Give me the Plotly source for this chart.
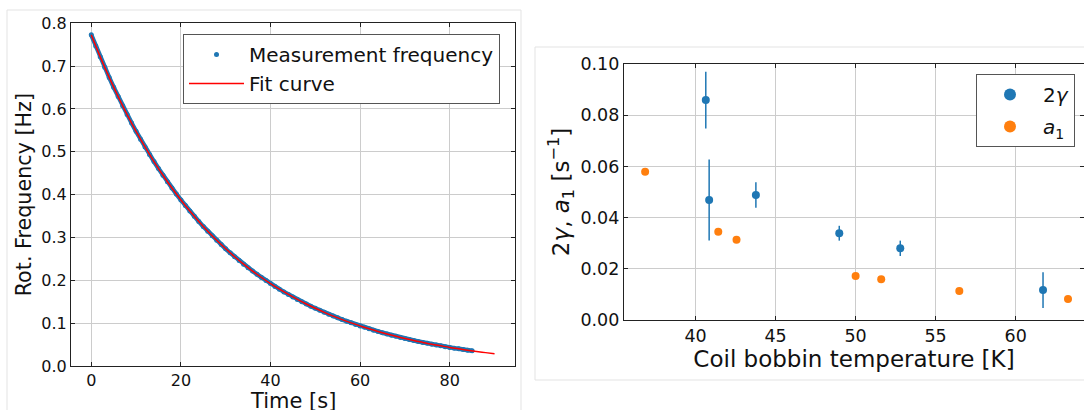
import plotly.graph_objects as go

W, H = 1084, 410

# ---- Left panel data: rotation frequency decay ----
meas_t = list(range(0, 86))
meas_f = [0.773, 0.7469, 0.7217, 0.6973, 0.6737, 0.6509, 0.6289, 0.6076, 0.5870, 0.5671,
          0.5479, 0.5293, 0.5114, 0.4940, 0.4772, 0.4610, 0.4453, 0.4302, 0.4155, 0.4013,
          0.3877, 0.3744, 0.3617, 0.3493, 0.3374, 0.3258, 0.3146, 0.3039, 0.2934, 0.2834,
          0.2736, 0.2642, 0.2551, 0.2463, 0.2378, 0.2296, 0.2217, 0.2140, 0.2066, 0.1994,
          0.1925, 0.1858, 0.1793, 0.1730, 0.1670, 0.1611, 0.1555, 0.1500, 0.1447, 0.1396,
          0.1347, 0.1299, 0.1253, 0.1208, 0.1165, 0.1124, 0.1083, 0.1045, 0.1007, 0.0971,
          0.0936, 0.0902, 0.0869, 0.0837, 0.0806, 0.0777, 0.0748, 0.0720, 0.0694, 0.0668,
          0.0643, 0.0619, 0.0595, 0.0573, 0.0551, 0.0530, 0.0509, 0.0490, 0.0471, 0.0452,
          0.0434, 0.0417, 0.0401, 0.0385, 0.0369, 0.0354]

fit_t = list(range(0, 91, 2))
fit_f = [0.773, 0.7217, 0.6737, 0.6289, 0.5870, 0.5479, 0.5114, 0.4772, 0.4453, 0.4155,
         0.3877, 0.3617, 0.3374, 0.3146, 0.2934, 0.2736, 0.2551, 0.2378, 0.2217, 0.2066,
         0.1925, 0.1793, 0.1670, 0.1555, 0.1447, 0.1347, 0.1253, 0.1165, 0.1083, 0.1007,
         0.0936, 0.0869, 0.0806, 0.0748, 0.0694, 0.0643, 0.0595, 0.0551, 0.0509, 0.0471,
         0.0434, 0.0401, 0.0369, 0.0340, 0.0312, 0.0286]

# ---- Right panel data ----
gamma_T = [40.64, 40.85, 43.77, 48.98, 52.79, 61.71]
gamma_v = [0.0859, 0.0469, 0.0488, 0.0339, 0.0280, 0.0117]
gamma_err = [0.0111, 0.0158, 0.0050, 0.0029, 0.0030, 0.0070]

a1_T = [36.85, 41.42, 42.56, 50.00, 51.60, 56.48, 63.27]
a1_v = [0.0579, 0.0345, 0.0313, 0.0172, 0.0159, 0.0113, 0.0082]

left_xticks = [0, 20, 40, 60, 80]
left_yticks = [0.0, 0.1, 0.2, 0.3, 0.4, 0.5, 0.6, 0.7, 0.8]
right_xticks = [40, 45, 50, 55, 60]
right_yticks = [0.00, 0.02, 0.04, 0.06, 0.08, 0.10]

BLUE = "#1f77b4"
ORANGE = "#ff7f0e"
FONT = "DejaVu Sans"

fig = go.Figure()

# measurement band (line under dots) + dots
fig.add_trace(go.Scatter(x=meas_t, y=meas_f, mode="lines", line=dict(color=BLUE, width=4.5),
                         showlegend=False, hoverinfo="skip", xaxis="x", yaxis="y"))
fig.add_trace(go.Scatter(x=meas_t, y=meas_f, mode="markers", name="Measurement frequency",
                         marker=dict(color=BLUE, size=5), xaxis="x", yaxis="y", legend="legend"))
fig.add_trace(go.Scatter(x=fit_t, y=fit_f, mode="lines", name="Fit curve",
                         line=dict(color="red", width=1.5, shape="spline"),
                         xaxis="x", yaxis="y", legend="legend"))

fig.add_trace(go.Scatter(x=gamma_T, y=gamma_v, mode="markers", name="2<i>γ</i>",
                         marker=dict(color=BLUE, size=8),
                         error_y=dict(type="data", array=gamma_err, color=BLUE, thickness=1.5, width=0),
                         xaxis="x2", yaxis="y2", legend="legend2", legendgroup="g1"))
fig.add_trace(go.Scatter(x=a1_T, y=a1_v, mode="markers", name="<i>a</i><sub>1</sub>",
                         marker=dict(color=ORANGE, size=8),
                         xaxis="x2", yaxis="y2", legend="legend2", legendgroup="g2"))

axis_common = dict(showline=True, linecolor="#222222", linewidth=1.3, mirror="ticks",
                   ticks="inside", ticklen=4, tickwidth=1, tickcolor="#222222",
                   showgrid=True, gridcolor="#cccccc", gridwidth=1, zeroline=False,
                   automargin=False)

fig.update_layout(
    width=W, height=H,
    margin=dict(l=0, r=0, t=0, b=0, pad=0, autoexpand=False),
    paper_bgcolor="white", plot_bgcolor="white",
    font=dict(family=FONT, color="#111111"),
    xaxis=dict(domain=[71.1 / W, 514.7 / W], range=[-4.5, 94.5], tickvals=left_xticks,
               tickfont=dict(size=16), anchor="y", **axis_common),
    yaxis=dict(domain=[1 - 366 / H, 1 - 23.3 / H], range=[0, 0.8], tickvals=left_yticks,
               tickformat=".1f", tickfont=dict(size=16),
               title=dict(text="Rot. Frequency [Hz]", font=dict(size=20.7), standoff=4),
               anchor="x", **axis_common),
    xaxis2=dict(domain=[624 / W, 1.0], range=[35.53, 64.27], tickvals=right_xticks,
                tickfont=dict(size=17.5),
                title=dict(text="Coil bobbin temperature [K]", font=dict(size=23), standoff=5),
                anchor="y2", **axis_common),
    yaxis2=dict(domain=[1 - 320 / H, 1 - 64 / H], range=[0, 0.1], tickvals=right_yticks,
                tickformat=".2f", tickfont=dict(size=17.5),
                title=dict(text="2<i>γ</i>, <i>a</i><sub>1</sub> [s<sup>−1</sup>]", font=dict(size=23), standoff=4),
                anchor="x2", **axis_common),
    legend=dict(x=183 / W, y=1 - 34 / H, xanchor="left", yanchor="top",
                bgcolor="white", bordercolor="#555555", borderwidth=1,
                font=dict(size=20, family=FONT), itemwidth=55),
    legend2=dict(x=976 / W, y=1 - 74 / H, xanchor="left", yanchor="top",
                 bgcolor="white", bordercolor="#555555", borderwidth=1,
                 font=dict(size=20, family=FONT), itemwidth=56, itemsizing="constant",
                 tracegroupgap=3),
    annotations=[
        dict(text="Time [s]", xref="paper", yref="paper", x=292.7 / W, y=1 - 401 / H,
             xanchor="center", yanchor="middle", showarrow=False, font=dict(size=21, family=FONT)),
    ],
    shapes=[
        dict(type="rect", xref="paper", yref="paper", x0=7 / W, x1=521 / W, y0=-0.1, y1=1 - 10 / H,
             line=dict(color="#e3e3e3", width=1), layer="below"),
        dict(type="rect", xref="paper", yref="paper", x0=535 / W, x1=1.1, y0=1 - 380 / H, y1=1 - 47 / H,
             line=dict(color="#e3e3e3", width=1), layer="below"),
    ],
)

fig.write_html("out.html")
